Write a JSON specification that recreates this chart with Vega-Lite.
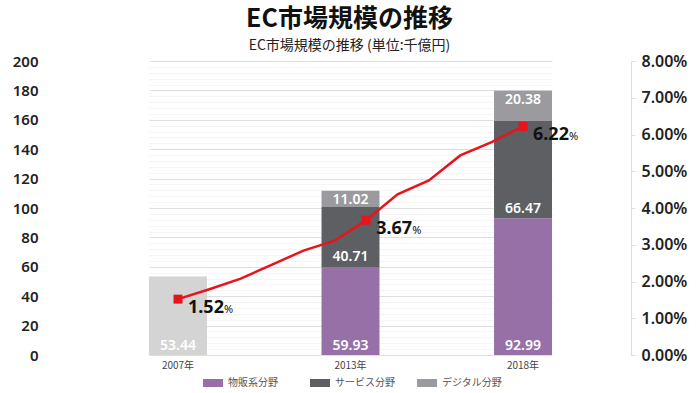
{
  "$schema": "https://vega.github.io/schema/vega-lite/v6.json",
  "width": 583,
  "height": 294,
  "autosize": {"type": "none"},
  "padding": {"left": 48, "top": 61, "right": 69, "bottom": 38},
  "background": "white",
  "config": {"view": {"stroke": null}, "font": "Noto Sans CJK JP"},
  "title": {
    "text": "EC市場規模の推移",
    "subtitle": "EC市場規模の推移 (単位:千億円)",
    "anchor": "middle",
    "dx": 10,
    "offset": 0,
    "font": "Noto Sans CJK JP",
    "fontSize": 25,
    "fontWeight": "bold",
    "color": "#111111",
    "subtitleFont": "Noto Sans CJK JP",
    "subtitleFontSize": 14,
    "subtitleColor": "#222222",
    "subtitlePadding": 7
  },
  "datasets": {
    "bars": [
      {"year": "2007年", "series": "EC市場規模", "value": 53.44},
      {"year": "2013年", "series": "物販系分野", "value": 59.93},
      {"year": "2013年", "series": "サービス分野", "value": 40.71},
      {"year": "2013年", "series": "デジタル分野", "value": 11.02},
      {"year": "2018年", "series": "物販系分野", "value": 92.99},
      {"year": "2018年", "series": "サービス分野", "value": 66.47},
      {"year": "2018年", "series": "デジタル分野", "value": 20.38}
    ],
    "ratio": [
      {"yr": 2007, "pct": 1.52},
      {"yr": 2008, "pct": 1.79},
      {"yr": 2009, "pct": 2.08},
      {"yr": 2010, "pct": 2.46},
      {"yr": 2011, "pct": 2.84},
      {"yr": 2012, "pct": 3.11},
      {"yr": 2013, "pct": 3.67},
      {"yr": 2014, "pct": 4.37},
      {"yr": 2015, "pct": 4.75},
      {"yr": 2016, "pct": 5.43},
      {"yr": 2017, "pct": 5.79},
      {"yr": 2018, "pct": 6.22}
    ]
  },
  "layer": [
    {
      "data": {"name": "bars"},
      "transform": [{"stack": "value", "groupby": ["year"], "as": ["v0", "v1"]}],
      "encoding": {
        "x": {
          "field": "year",
          "type": "nominal",
          "sort": null,
          "scale": {"type": "band", "range": [101, 504], "paddingInner": 0.664, "paddingOuter": 0},
          "axis": {
            "title": null,
            "domain": false,
            "ticks": false,
            "grid": false,
            "labelAngle": 0,
            "labelFont": "Noto Sans CJK JP",
            "labelFontSize": 10,
            "labelColor": "#444444",
            "labelPadding": 5
          }
        }
      },
      "layer": [
        {
          "mark": {"type": "bar"},
          "encoding": {
            "y": {
              "field": "v0",
              "type": "quantitative",
              "scale": {"domain": [0, 200]},
              "axis": {
                "title": null,
                "domain": false,
                "ticks": false,
                "values": [0,4,8,12,16,20,24,28,32,36,40,44,48,52,56,60,64,68,72,76,80,84,88,92,96,100,104,108,112,116,120,124,128,132,136,140,144,148,152,156,160,164,168,172,176,180,184,188,192,196,200],
                "labelExpr": "datum.value % 20 === 0 ? datum.label : ''",
                "labelOverlap": false,
                "labelFont": "Noto Sans",
                "labelFontSize": 15,
                "labelFontWeight": 600,
                "labelColor": "#222222",
                "labelPadding": 10,
                "grid": true,
                "gridColor": {"condition": {"test": "datum.value % 20 === 0", "value": "#dedede"}, "value": "#f5f5f5"},
                "gridWidth": 1
              }
            },
            "y2": {"field": "v1"},
            "color": {
              "field": "series",
              "type": "nominal",
              "scale": {
                "domain": ["物販系分野", "サービス分野", "デジタル分野", "EC市場規模"],
                "range": ["#9670a7", "#5e5f63", "#9b9b9f", "#d4d4d4"]
              },
              "legend": {
                "values": ["物販系分野", "サービス分野", "デジタル分野"],
                "title": null,
                "orient": "none",
                "legendX": 155,
                "legendY": 312,
                "direction": "horizontal",
                "columns": 3,
                "gridAlign": "all",
                "columnPadding": 22,
                "padding": 0,
                "symbolType": "M-1,-0.4H1V0.4H-1Z",
                "symbolSize": 400,
                "symbolStrokeWidth": 0,
                "labelOffset": 5,
                "labelFont": "Noto Sans CJK JP",
                "labelFontSize": 10,
                "labelColor": "#555555"
              }
            }
          }
        },
        {
          "transform": [{"filter": "datum.series !== 'デジタル分野'"}],
          "mark": {"type": "text", "dy": -9.5, "baseline": "middle", "align": "center", "color": "white", "font": "Noto Sans", "fontSize": 14, "fontWeight": 600},
          "encoding": {
            "y": {
              "field": "v0",
              "type": "quantitative",
              "axis": {
                "title": null,
                "domain": false,
                "ticks": false,
                "values": [0,4,8,12,16,20,24,28,32,36,40,44,48,52,56,60,64,68,72,76,80,84,88,92,96,100,104,108,112,116,120,124,128,132,136,140,144,148,152,156,160,164,168,172,176,180,184,188,192,196,200],
                "labelExpr": "datum.value % 20 === 0 ? datum.label : ''",
                "labelOverlap": false,
                "labelFont": "Noto Sans",
                "labelFontSize": 15,
                "labelFontWeight": 600,
                "labelColor": "#222222",
                "labelPadding": 10,
                "grid": true,
                "gridColor": {"condition": {"test": "datum.value % 20 === 0", "value": "#dedede"}, "value": "#f5f5f5"},
                "gridWidth": 1
              }
            },
            "text": {"field": "value", "type": "quantitative", "format": ".2f"}
          }
        },
        {
          "transform": [{"filter": "datum.series === 'デジタル分野'"}],
          "mark": {"type": "text", "dy": 9, "baseline": "middle", "align": "center", "color": "white", "font": "Noto Sans", "fontSize": 14, "fontWeight": 600},
          "encoding": {
            "y": {
              "field": "v1",
              "type": "quantitative",
              "axis": {
                "title": null,
                "domain": false,
                "ticks": false,
                "values": [0,4,8,12,16,20,24,28,32,36,40,44,48,52,56,60,64,68,72,76,80,84,88,92,96,100,104,108,112,116,120,124,128,132,136,140,144,148,152,156,160,164,168,172,176,180,184,188,192,196,200],
                "labelExpr": "datum.value % 20 === 0 ? datum.label : ''",
                "labelOverlap": false,
                "labelFont": "Noto Sans",
                "labelFontSize": 15,
                "labelFontWeight": 600,
                "labelColor": "#222222",
                "labelPadding": 10,
                "grid": true,
                "gridColor": {"condition": {"test": "datum.value % 20 === 0", "value": "#dedede"}, "value": "#f5f5f5"},
                "gridWidth": 1
              }
            },
            "text": {"field": "value", "type": "quantitative", "format": ".2f"}
          }
        }
      ]
    },
    {
      "data": {"name": "ratio"},
      "encoding": {
        "x": {"field": "yr", "type": "quantitative", "scale": {"domain": [2007, 2018], "range": [130, 475]}, "axis": null},
        "y": {
          "field": "pct",
          "type": "quantitative",
          "scale": {"domain": [0, 8]},
          "axis": {
            "orient": "right",
            "title": null,
            "values": [0, 1, 2, 3, 4, 5, 6, 7, 8],
            "format": ".2f",
            "labelExpr": "datum.label + '%'",
            "grid": false,
            "domain": true,
            "domainColor": "#dddddd",
            "ticks": true,
            "tickColor": "#dddddd",
            "tickSize": 4,
            "labelPadding": 6,
            "labelFont": "Noto Sans",
            "labelFontSize": 16,
            "labelFontWeight": 600,
            "labelColor": "#222222"
          }
        }
      },
      "layer": [
        {"mark": {"type": "line", "color": "#e8141b", "strokeWidth": 2.5}},
        {
          "transform": [{"filter": "datum.yr === 2007 || datum.yr === 2013 || datum.yr === 2018"}],
          "layer": [
            {"mark": {"type": "point", "shape": "square", "filled": true, "color": "#e8141b", "size": 80, "opacity": 1}},
            {
              "mark": {"type": "text", "align": "left", "baseline": "alphabetic", "dx": 10, "dy": 14, "font": "Noto Sans", "fontSize": 18, "fontWeight": "bold", "color": "#111111"},
              "encoding": {"text": {"field": "pct", "type": "quantitative", "format": ".2f"}}
            },
            {
              "mark": {"type": "text", "text": "%", "align": "left", "baseline": "alphabetic", "dx": 46, "dy": 14, "font": "Noto Sans", "fontSize": 11, "color": "#111111"}
            }
          ]
        }
      ]
    }
  ],
  "resolve": {"scale": {"x": "independent", "y": "independent"}}
}
